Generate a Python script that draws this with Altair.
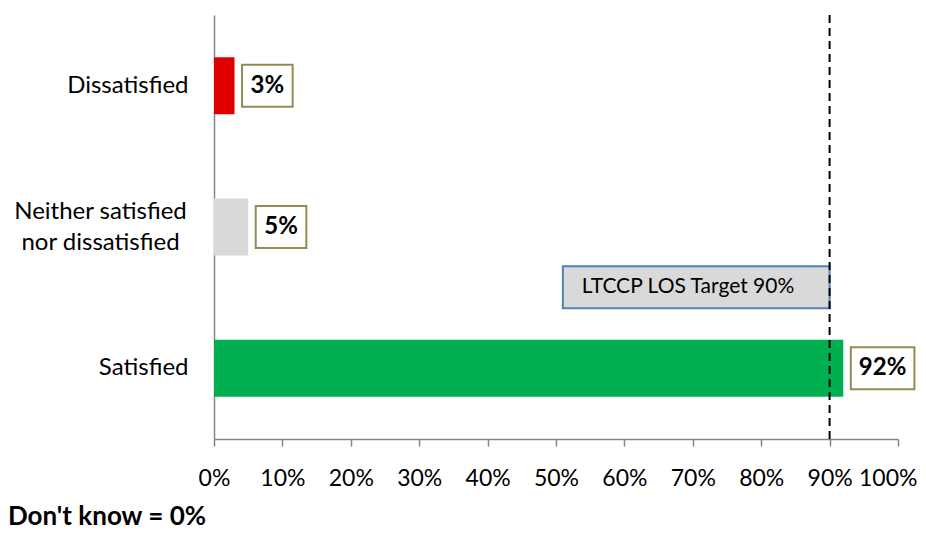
import altair as alt
import pandas as pd

categories = ["Dissatisfied", "Neither satisfied\nnor dissatisfied", "Satisfied"]
values = [0.03, 0.05, 0.92]
labels = ["3%", "5%", "92%"]
colors = ["#e00000", "#d9d9d9", "#00b050"]

target_value = 0.90
target_text = "LTCCP LOS Target 90%"
target_box_start = 0.51
target_anchor = "Satisfied"
footnote = "Don't know = 0%"

FONT = "Lato"

df = pd.DataFrame({"cat": categories, "value": values, "label": labels, "color": colors})
tdf = pd.DataFrame({"cat": [target_anchor], "start": [target_box_start],
                    "end": [target_value], "text": [target_text]})
rdf = pd.DataFrame({"t": [target_value]})

multi = "indexof(datum.value, '\\n') >= 0"

yenc = alt.Y("cat:N", sort=categories,
             scale=alt.Scale(paddingInner=0.6, paddingOuter=0.3),
             axis=alt.Axis(title=None, ticks=False, labelFontSize=24,
                           labelPadding={"condition": {"test": multi, "value": 114}, "value": 26},
                           labelAlign={"condition": {"test": multi, "value": "center"}, "value": "right"},
                           labelOffset={"condition": {"test": multi, "value": -15}, "value": 0},
                           labelFont=FONT, labelColor="#000000", labelLineHeight=31,
                           labelExpr="split(datum.value, '\\n')",
                           domainColor="#868686", domainWidth=1.5, grid=False))

last = "datum.value >= 1"
xscale = alt.Scale(domain=[0, 1], nice=False, zero=True)
xenc = alt.X("value:Q", scale=xscale,
             axis=alt.Axis(title=None, format=".0%", values=[i / 10 for i in range(11)],
                           tickSize=7, tickColor="#868686", tickWidth=1.5,
                           domainColor="#868686", domainWidth=1.5, grid=False,
                           labelOverlap=False, labelFlush=False,
                           labelAlign={"condition": {"test": last, "value": "right"}, "value": "center"},
                           labelOffset={"condition": {"test": last, "value": 19}, "value": 0},
                           labelFontSize=23, labelFont=FONT, labelColor="#000000",
                           labelPadding=21))

bars = alt.Chart(df).mark_bar(size=57).encode(
    x=xenc, y=yenc, color=alt.Color("color:N", scale=None))

base_lbl = alt.Chart(df).transform_calculate(
    left="datum.value + 0.011",
    right="datum.value + 0.011 + 0.036 + 0.019 * length(datum.label)",
    mid="datum.value + 0.011 + (0.036 + 0.019 * length(datum.label)) / 2")

boxes = base_lbl.mark_bar(size=42, fill="#ffffff", stroke="#948a54", strokeWidth=2).encode(
    x=alt.X("left:Q", scale=xscale), x2="right:Q", y=alt.Y("cat:N", sort=categories))

btext = base_lbl.mark_text(fontSize=24, fontWeight="bold", font=FONT, color="#000000",
                           baseline="middle", align="center").encode(
    x=alt.X("mid:Q", scale=xscale), y=alt.Y("cat:N", sort=categories), text="label:N")

tbox = alt.Chart(tdf).mark_bar(size=42, yOffset=-81, fill="#d9d9d9", stroke="#4f81bd",
                               strokeWidth=2).encode(
    x=alt.X("start:Q", scale=xscale), x2="end:Q", y=alt.Y("cat:N", sort=categories))

ttext = alt.Chart(tdf).mark_text(yOffset=-81, dx=19, align="left", baseline="middle",
                                 fontSize=21, font=FONT, color="#000000").encode(
    x=alt.X("start:Q", scale=xscale), y=alt.Y("cat:N", sort=categories), text="text:N")

rule = alt.Chart(rdf).mark_rule(color="#000000", strokeWidth=2, strokeDash=[8, 5]).encode(
    x=alt.X("t:Q", scale=xscale))

chart = alt.layer(bars, boxes, btext, tbox, ttext, rule).properties(
    width=684, height=424,
    autosize=alt.AutoSizeParams(type="none"),
    padding={"left": 206, "top": 7, "right": 20, "bottom": 93},
    title=alt.TitleParams(footnote, orient="bottom", anchor="start", frame="group",
                          dx=-206, offset=14, fontSize=26, fontWeight="bold", font=FONT,
                          color="#000000"),
).configure_view(stroke=None)

chart.save("out.html", embed_options={"renderer": "svg", "actions": False})
